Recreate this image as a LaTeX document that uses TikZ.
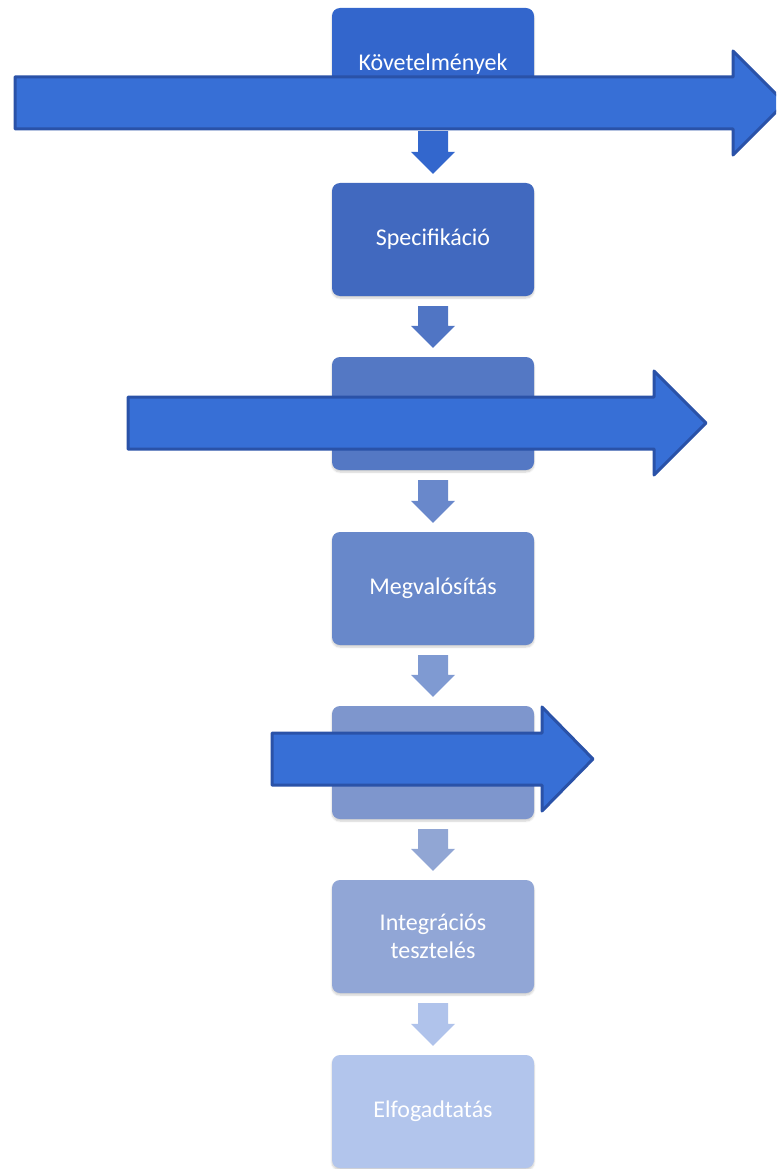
\documentclass[tikz,border=0pt]{standalone}
\usepackage{fontspec}
\setmainfont{Carlito}
\usetikzlibrary{calc,shadows.blur}

\definecolor{phaseA}{HTML}{3366CC}
\definecolor{phaseB}{HTML}{4169BF}
\definecolor{phaseC}{HTML}{5478C4}
\definecolor{phaseD}{HTML}{6888CA}
\definecolor{phaseE}{HTML}{7E96CD}
\definecolor{phaseF}{HTML}{91A6D6}
\definecolor{phaseG}{HTML}{B2C5EC}
\definecolor{arrowfill}{HTML}{376FD6}
\definecolor{arrowline}{HTML}{2A52A8}

\tikzset{
 phase/.style={rectangle, rounded corners=8pt, minimum width=202pt,
  minimum height=113pt, text=white, align=center,
  font=\fontsize{24}{28}\selectfont,
  blur shadow={shadow blur steps=6, shadow xshift=0pt, shadow yshift=-2pt, shadow opacity=20}},
 bigarrow/.style={fill=arrowfill, draw=arrowline, line width=3pt, line join=round}
}

% small block arrow between two phases
\newcommand{\flowarrow}[3]{%
 \fill[#3] ($(#1.south)+(-15,10)$) -- ($(#1.south)+(15,10)$)
  -- ($(#2.north)+(15,-31)$) -- ($(#2.north)+(22,-31)$)
  -- ($(#2.north)+(0,-9)$) -- ($(#2.north)+(-22,-31)$)
  -- ($(#2.north)+(-15,-31)$) -- cycle;}

\begin{document}
\begin{tikzpicture}[x=1pt,y=-1pt]
\useasboundingbox (0,0) rectangle (776,1169);
\clip (0,0) rectangle (776,1169);

%phases
\node[phase, fill=phaseA] (req) at (433,64.5) {Követelmények};
\node[phase, fill=phaseB] (spec) at (433,239.5) {Specifikáció};
\node[phase, fill=phaseC] (design) at (433,413.5) {};
\node[phase, fill=phaseD] (impl) at (433,588.5) {Megvalósítás};
\node[phase, fill=phaseE] (unit) at (433,762.5) {};
\node[phase, fill=phaseF] (integ) at (433,936.5) {Integrációs\\tesztelés};
\node[phase, fill=phaseG] (accept) at (433,1111.5) {Elfogadtatás};

%flow
\flowarrow{req}{spec}{phaseA!95!arrowfill}
\flowarrow{spec}{design}{phaseB!92!white}
\flowarrow{design}{impl}{phaseC!88!white}
\flowarrow{impl}{unit}{phaseD!85!white}
\flowarrow{unit}{integ}{phaseE!85!white}
\flowarrow{integ}{accept}{phaseG!95!phaseF}

%big arrows
\draw[bigarrow] (15,77) -- (733,77) -- (733,51) -- (785,103) -- (733,155)
 -- (733,129) -- (15,129) -- cycle; %arrow 1
\draw[bigarrow] (128,397) -- (654,397) -- (654,371) -- (706,423) -- (654,475)
 -- (654,449) -- (128,449) -- cycle; %arrow 2
\draw[bigarrow] (272,733) -- (542,733) -- (542,707) -- (593,759) -- (542,811)
 -- (542,785) -- (272,785) -- cycle; %arrow 3
\end{tikzpicture}
\end{document}
